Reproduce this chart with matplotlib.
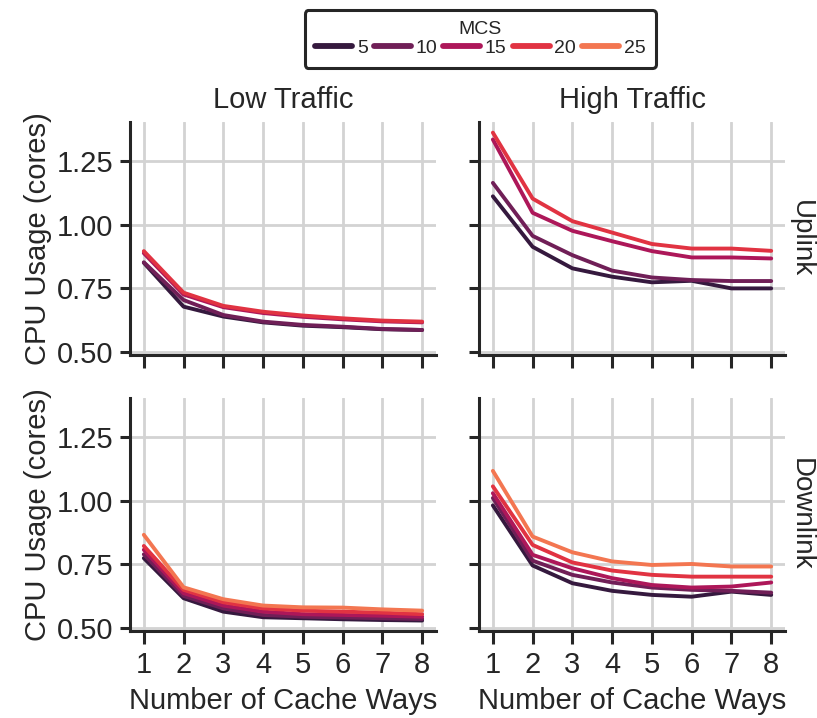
"""
plot.py

CPU usage vs. number of cache ways, split by traffic load (columns)
and link direction (rows), one line per MCS value.
"""

import matplotlib
matplotlib.use("Agg")
import matplotlib.pyplot as plt
import seaborn as sns

cache_ways = [1, 2, 3, 4, 5, 6, 7, 8]
mcs_values = [5, 10, 15, 20, 25]
traffic_labels = ["Low Traffic", "High Traffic"]
link_labels = ["Uplink", "Downlink"]

# Uplink, low traffic (MCS 5..20)
ul_low = {
    5: [0.850, 0.677, 0.638, 0.615, 0.602, 0.596, 0.588, 0.585],
    10: [0.852, 0.703, 0.644, 0.618, 0.605, 0.598, 0.589, 0.585],
    15: [0.888, 0.725, 0.675, 0.652, 0.637, 0.627, 0.619, 0.615],
    20: [0.896, 0.732, 0.680, 0.657, 0.642, 0.631, 0.622, 0.618],
}
# Uplink, high traffic (MCS 5..20)
ul_high = {
    5: [1.112, 0.913, 0.828, 0.795, 0.773, 0.779, 0.749, 0.749],
    10: [1.165, 0.956, 0.880, 0.819, 0.792, 0.782, 0.778, 0.778],
    15: [1.336, 1.047, 0.976, 0.935, 0.896, 0.871, 0.871, 0.867],
    20: [1.363, 1.103, 1.014, 0.969, 0.924, 0.906, 0.906, 0.897],
}
# Downlink, low traffic
dl_low = {
    5: [0.774, 0.616, 0.563, 0.541, 0.537, 0.533, 0.530, 0.528],
    10: [0.789, 0.625, 0.576, 0.550, 0.543, 0.540, 0.537, 0.534],
    15: [0.807, 0.636, 0.587, 0.563, 0.553, 0.550, 0.547, 0.543],
    20: [0.822, 0.649, 0.600, 0.576, 0.567, 0.563, 0.559, 0.553],
    25: [0.866, 0.659, 0.612, 0.587, 0.580, 0.579, 0.572, 0.567],
}
# Downlink, high traffic
dl_high = {
    5: [0.982, 0.745, 0.675, 0.645, 0.629, 0.622, 0.642, 0.629],
    10: [1.011, 0.764, 0.708, 0.678, 0.658, 0.649, 0.645, 0.638],
    15: [1.030, 0.787, 0.734, 0.695, 0.668, 0.658, 0.662, 0.678],
    20: [1.057, 0.826, 0.757, 0.725, 0.708, 0.701, 0.701, 0.701],
    25: [1.118, 0.859, 0.797, 0.761, 0.747, 0.751, 0.741, 0.741],
}

panels = [[ul_low, ul_high], [dl_low, dl_high]]

sns.set_style("ticks")
plt.rcParams["font.family"] = ["Liberation Sans", "DejaVu Sans"]
text_color = "#262626"

# first five colours of the 6-step "rocket" palette
colors = dict(zip(mcs_values, sns.color_palette("rocket", 6)[:5]))

fig, axes = plt.subplots(2, 2, figsize=(8.17, 7.18), dpi=100,
                         sharex=True, sharey=True)
fig.subplots_adjust(left=0.159, right=0.961, top=0.830, bottom=0.121,
                    wspace=0.14, hspace=0.185)

fs = 21
for r in range(2):
    for c in range(2):
        ax = axes[r][c]
        data = panels[r][c]
        for mcs in mcs_values:
            if mcs in data:
                ax.plot(cache_ways, data[mcs], color=colors[mcs], lw=2.8,
                        label=str(mcs))
        ax.grid(True, color="#d3d3d3", lw=2)
        ax.set_axisbelow(True)
        sns.despine(ax=ax)
        for side in ["left", "bottom"]:
            ax.spines[side].set_linewidth(2.2)
            ax.spines[side].set_color(text_color)
        ax.tick_params(axis="both", width=2.2, color=text_color,
                       labelsize=fs, labelcolor=text_color)
        ax.tick_params(axis="x", length=9, pad=5)
        ax.tick_params(axis="y", length=7, pad=5)
        if r == 0:
            ax.set_title(traffic_labels[c], fontsize=fs, color=text_color, pad=10)
        if r == 1:
            ax.set_xlabel("Number of Cache Ways", fontsize=fs, color=text_color,
                          labelpad=6)
        if c == 0:
            ax.set_ylabel("CPU Usage (cores)", fontsize=fs, color=text_color,
                          labelpad=3)
        if c == 1:
            ax.text(1.008, 0.5, link_labels[r], transform=ax.transAxes,
                    rotation=-90, ha="left", va="center", fontsize=20,
                    color=text_color)

axes[0][0].set_xticks(cache_ways)
axes[0][0].set_yticks([0.50, 0.75, 1.00, 1.25])
axes[0][0].yaxis.set_major_formatter(matplotlib.ticker.FormatStrFormatter("%.2f"))

handles, labels = axes[1][0].get_legend_handles_labels()
leg = fig.legend(handles, labels, title="MCS", ncol=5, loc="upper center",
                 bbox_to_anchor=(0.588, 0.986), fontsize=14, title_fontsize=14,
                 frameon=True, fancybox=True, handlelength=1.9,
                 handletextpad=0.25, columnspacing=0.3, borderpad=0.55,
                 labelspacing=0.1, borderaxespad=0)
for line in leg.get_lines():
    line.set_linewidth(4.2)
leg.get_frame().set_edgecolor(text_color)
leg.get_frame().set_linewidth(2.2)
leg.get_frame().set_alpha(1)

fig.savefig("out.png", dpi=100)
